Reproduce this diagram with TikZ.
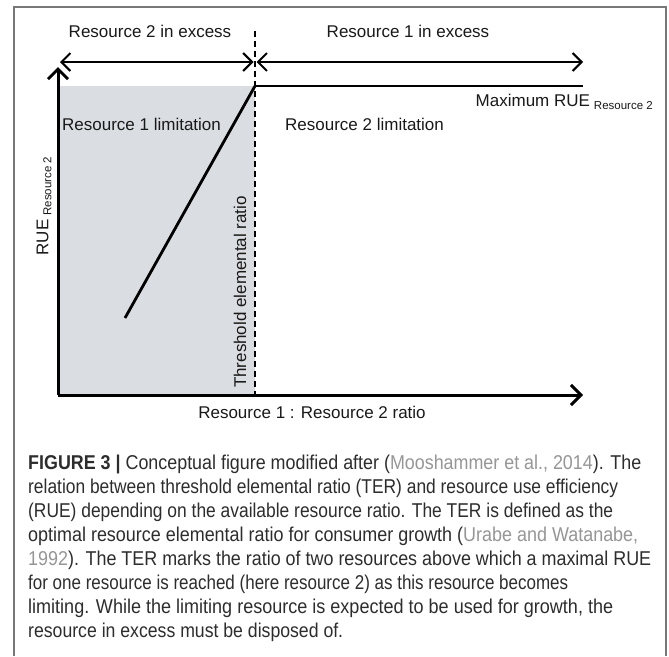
\documentclass[tikz,border=0pt]{standalone}
\usepackage{fontspec}
\usepackage{graphicx}
\setmainfont{Liberation Sans}
\usetikzlibrary{arrows.meta}
\definecolor{limitfill}{RGB}{218,221,225}
\definecolor{framegray}{RGB}{120,120,120}
\definecolor{captext}{RGB}{45,45,45}
\definecolor{citegray}{RGB}{150,150,150}
\newcommand{\subres}{{\fontsize{11.5}{12}\selectfont\raisebox{-3pt}{Resource 2}}}
% one caption line, stretched to a given width
\newcommand{\capw}[2]{\resizebox{#1pt}{\height}{#2}}

\begin{document}
\begin{tikzpicture}[x=1pt,y=-1pt,
  lbl/.style={font=\fontsize{17}{20}\selectfont, text=black!90, inner sep=0pt},
  capline/.style={font=\fontsize{20}{24}\selectfont, text=captext, inner sep=0pt, anchor=base west},
  axis/.style={line width=3pt, -{Straight Barb[length=10pt,width=20pt]}},
  span/.style={line width=2pt, {Straight Barb[length=9pt,width=18pt]}-{Straight Barb[length=9pt,width=18pt]}},
  curve/.style={line width=2.8pt},
  ter/.style={line width=1.5pt, dash pattern=on 6pt off 4pt},
  ]
\useasboundingbox (0,0) rectangle (669,656);
\fill[white] (0,0) rectangle (669,656);

% outer frame of the figure
\draw[framegray, line width=1.5pt] (14,656) -- (14,7) -- (666,7) -- (666,656);

% key points of the plot
\coordinate (O) at (58,395);
\coordinate (Ytip) at (58,67);
\coordinate (Xtip) at (583,395);
\coordinate (T) at (255,86);
\coordinate (Pend) at (583,86);
\coordinate (Lstart) at (125,318);
\coordinate (Dtop) at (255,31);
\coordinate (Dbot) at (255,395);
\coordinate (AL) at (60,62);
\coordinate (AMl) at (253.5,62);
\coordinate (AMr) at (256.5,62);
\coordinate (AR) at (583,62);

% region limited by resource 1
\fill[limitfill] (O) rectangle (T);

% RUE curve: linear rise up to the TER, then plateau
\draw[curve] (Lstart) -- (T);
\draw[curve] (T) -- (Pend);

% threshold elemental ratio
\draw[ter] (Dtop) -- (Dbot);

% axes
\draw[axis] (O) -- (Ytip);
\draw[axis] (O) -- (Xtip);

% ranges of excess
\draw[span] (AL) -- (AMl);
\draw[span] (AMr) -- (AR);

% labels
\node[lbl] (ex2) at (150,31) {Resource 2 in excess};
\node[lbl] (ex1) at (408,31) {Resource 1 in excess};
\node[lbl, anchor=east] (maxrue) at (653,102) {Maximum RUE\hspace{4pt}\subres};
\node[lbl, anchor=west] (lim1) at (62,124) {Resource 1 limitation};
\node[lbl, anchor=west] (lim2) at (285,124) {Resource 2 limitation};
\node[lbl, rotate=90] (ylab) at (44,206) {RUE\hspace{4pt}\subres};
\node[lbl, rotate=90] (terlab) at (240,292) {Threshold elemental ratio};
\node[lbl] (xlab) at (312,412) {Resource 1 : Resource 2 ratio};

% caption
\node[capline] (cap1) at (28,469) {\capw{613}{\textbf{FIGURE 3 |} Conceptual figure modified after (\textcolor{citegray}{Mooshammer et al., 2014}). The}};
\node[capline] (cap2) at (28,493) {\capw{590}{relation between threshold elemental ratio (TER) and resource use efficiency}};
\node[capline] (cap3) at (28,517) {\capw{585}{(RUE) depending on the available resource ratio. The TER is defined as the}};
\node[capline] (cap4) at (28,541) {\capw{610}{optimal resource elemental ratio for consumer growth (\textcolor{citegray}{Urabe and Watanabe,}}};
\node[capline] (cap5) at (28,565) {\capw{623}{\textcolor{citegray}{1992}). The TER marks the ratio of two resources above which a maximal RUE}};
\node[capline] (cap6) at (28,589) {\capw{540}{for one resource is reached (here resource 2) as this resource becomes}};
\node[capline] (cap7) at (28,613) {\capw{585}{limiting. While the limiting resource is expected to be used for growth, the}};
\node[capline] (cap8) at (28,637) {\capw{315}{resource in excess must be disposed of.}};
\end{tikzpicture}
\end{document}
